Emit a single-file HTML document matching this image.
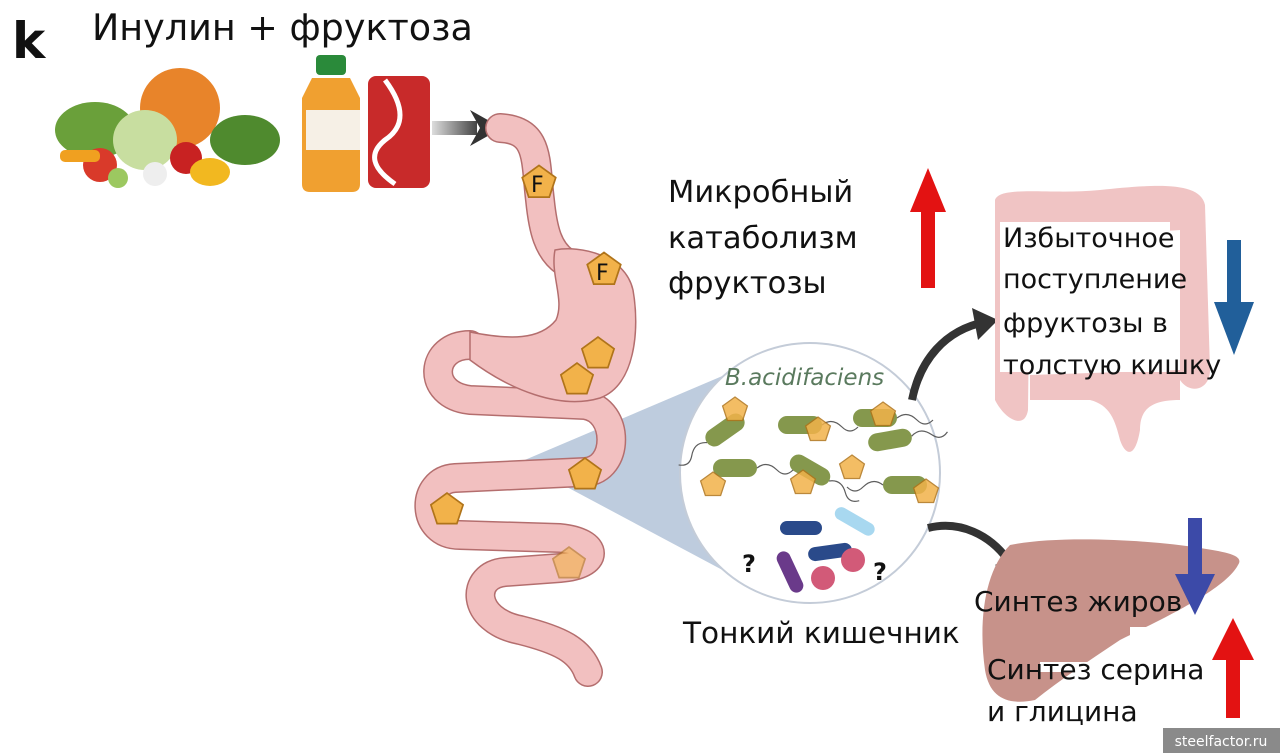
<!DOCTYPE html>
<html><head><meta charset="utf-8"><style>
html,body{margin:0;padding:0;background:#fff;width:1280px;height:753px;overflow:hidden}
svg{display:block}
text{font-family:"DejaVu Sans","Liberation Sans",sans-serif;fill:#111}
</style></head><body>
<svg width="1280" height="753" viewBox="0 0 1280 753" xmlns="http://www.w3.org/2000/svg">
<defs>
<linearGradient id="ga" x1="0" x2="1"><stop offset="0" stop-color="#ddd"/><stop offset="1" stop-color="#444"/></linearGradient>
<g id="pent"><path d="M0,-13 L12.4,-4 L7.6,10.5 L-7.6,10.5 L-12.4,-4 z" fill="#f2b24a" stroke="#b0741a" stroke-width="1.3"/></g>
<g id="bac"><rect x="-22" y="-9" width="44" height="18" rx="9" fill="#7f9344"/><path d="M-22,0 q-10,-8 -20,2 q-8,8 -16,0" fill="none" stroke="#555" stroke-width="1.2"/></g>
</defs>

<text x="12" y="58" font-size="50" font-weight="bold">k</text>
<text x="92" y="40" font-size="36.5">Инулин + фруктоза</text>

<ellipse cx="180" cy="108" rx="40" ry="40" fill="#e8842a"/>
<ellipse cx="95" cy="130" rx="40" ry="28" fill="#6aa03a"/>
<ellipse cx="145" cy="140" rx="32" ry="30" fill="#c8dea0"/>
<ellipse cx="245" cy="140" rx="35" ry="25" fill="#4f8a2e"/>
<circle cx="100" cy="165" r="17" fill="#d93a2a"/>
<circle cx="186" cy="158" r="16" fill="#c82222"/>
<ellipse cx="210" cy="172" rx="20" ry="14" fill="#f2b820"/>
<rect x="60" y="150" width="40" height="12" rx="5" fill="#f0a020"/>
<circle cx="118" cy="178" r="10" fill="#9cc860"/>
<circle cx="155" cy="174" r="12" fill="#eee"/>
<rect x="316" y="55" width="30" height="20" rx="4" fill="#2a8a3a"/>
<path d="M312,78 h38 l10,20 v86 q0,8 -8,8 h-42 q-8,0 -8,-8 v-86 z" fill="#f0a030"/>
<rect x="306" y="110" width="54" height="40" fill="#f6f0e6"/>
<rect x="368" y="76" width="62" height="112" rx="8" fill="#c82a2a"/>
<path d="M385,80 q30,40 0,60 q-25,20 10,44" fill="none" stroke="#fff" stroke-width="5"/>
<rect x="432" y="121" width="45" height="14" fill="url(#ga)"/>
<path d="M470,110 L502,128 L470,146 L480,128 z" fill="#333"/>

<path d="M520,462 L760,360 L760,590 z" fill="#b7c6da" opacity="0.9"/>

<g fill="none" stroke-linecap="round" stroke-linejoin="round">
<path d="M500,128 C540,130 535,160 540,200 C543,230 548,250 565,262 M470,345 C430,345 425,395 470,400 L585,405 C620,410 620,470 585,472 L455,478 C420,480 420,535 460,535 L560,538 C600,542 600,565 560,568 L505,572 C470,575 470,620 520,630 C560,640 580,650 588,672" stroke="#b46e6e" stroke-width="30"/>
<path d="M500,128 C540,130 535,160 540,200 C543,230 548,250 565,262 M470,345 C430,345 425,395 470,400 L585,405 C620,410 620,470 585,472 L455,478 C420,480 420,535 460,535 L560,538 C600,542 600,565 560,568 L505,572 C470,575 470,620 520,630 C560,640 580,650 588,672" stroke="#f2c0c0" stroke-width="27"/>
</g>
<path d="M555,250 C580,245 625,255 633,290 C640,330 635,385 600,398 C560,410 510,390 470,360 L470,332 C510,340 540,340 556,320 C565,300 550,275 555,250 z" fill="#f2c0c0" stroke="#b46e6e" stroke-width="1.5"/>
<use href="#pent" transform="translate(539,183) scale(1.35)"/>
<text x="531" y="192" font-size="22">F</text>
<use href="#pent" transform="translate(604,270) scale(1.35)"/>
<text x="596" y="280" font-size="22">F</text>
<use href="#pent" transform="translate(598,354) scale(1.3)"/>
<use href="#pent" transform="translate(577,380) scale(1.3)"/>
<use href="#pent" transform="translate(585,475) scale(1.3)"/>
<use href="#pent" transform="translate(447,510) scale(1.3)"/>
<g opacity="0.6"><use href="#pent" transform="translate(569,564) scale(1.3)"/></g>

<circle cx="810" cy="473" r="130" fill="#fff" stroke="#c4ccd8" stroke-width="2"/>
<text x="725" y="385" font-size="23" font-style="italic" style="fill:#5a7a5e">B.acidifaciens</text>
<g opacity="0.95">
<g transform="translate(725,430) rotate(-35)"><use href="#bac"/></g>
<g transform="translate(800,425)"><use href="#bac" transform="scale(-1,1)"/></g>
<g transform="translate(875,418)"><use href="#bac" transform="scale(-1,1)"/></g>
<g transform="translate(890,440) rotate(-10)"><use href="#bac" transform="scale(-1,1)"/></g>
<g transform="translate(810,470) rotate(30)"><use href="#bac" transform="scale(-1,1)"/></g>
<g transform="translate(735,468)"><use href="#bac" transform="scale(-1,1)"/></g>
<g transform="translate(905,485)"><use href="#bac"/></g>
</g>
<g opacity="0.85">
<use href="#pent" transform="translate(735,410)"/>
<use href="#pent" transform="translate(818,430)"/>
<use href="#pent" transform="translate(883,415)"/>
<use href="#pent" transform="translate(852,468)"/>
<use href="#pent" transform="translate(803,483)"/>
<use href="#pent" transform="translate(713,485)"/>
<use href="#pent" transform="translate(926,492)"/>
</g>
<rect x="780" y="521" width="42" height="14" rx="7" fill="#2a4a8a"/>
<rect x="833" y="515" width="44" height="13" rx="6.5" fill="#a8d8f0" transform="rotate(30 855 521)"/>
<rect x="808" y="545" width="44" height="14" rx="7" fill="#2a4a8a" transform="rotate(-8 830 552)"/>
<rect x="768" y="565" width="44" height="14" rx="7" fill="#6a3a8a" transform="rotate(65 790 572)"/>
<circle cx="853" cy="560" r="12" fill="#d25a78"/>
<circle cx="823" cy="578" r="12" fill="#d25a78"/>
<text x="742" y="572" font-size="24" font-weight="bold">?</text>
<text x="873" y="580" font-size="24" font-weight="bold">?</text>

<text x="668" y="202" font-size="30.5">Микробный</text>
<text x="668" y="248" font-size="30.5">катаболизм</text>
<text x="668" y="293" font-size="30.5">фруктозы</text>
<path d="M921,288 V212 H910 L928,168 L946,212 H935 V288 z" fill="#e31212"/>

<text x="683" y="643" font-size="29.5">Тонкий кишечник</text>

<path d="M912,400 C920,360 945,330 985,322" fill="none" stroke="#333" stroke-width="8"/>
<path d="M972,308 L998,320 L978,340 z" fill="#333"/>
<path d="M928,528 C960,520 990,535 1008,560" fill="none" stroke="#333" stroke-width="8"/>
<path d="M995,565 L1020,580 L1023,550 z" fill="#333"/>

<g fill="#f0c4c4">
<path d="M995,200 C1000,185 1050,195 1100,190 C1150,185 1200,180 1205,205 L1210,370 C1210,390 1190,395 1180,380 L1180,230 L1030,240 L1028,410 C1025,430 1005,420 995,400 z"/>
<path d="M1030,375 L1180,370 L1180,400 C1150,400 1140,410 1140,430 C1135,460 1125,455 1120,440 C1115,420 1110,405 1090,400 L1030,400 z"/>
</g>
<rect x="1000" y="222" width="170" height="150" fill="#fff"/>
<text x="1003" y="247" font-size="27">Избыточное</text>
<text x="1003" y="288" font-size="27">поступление</text>
<text x="1003" y="332" font-size="27">фруктозы в</text>
<text x="1003" y="374" font-size="27">толстую кишку</text>
<path d="M1227,240 V302 H1214 L1234,355 L1254,302 H1241 V240 z" fill="#215f9a"/>

<path d="M1010,545 C1060,535 1150,540 1200,548 C1225,552 1245,555 1238,565 C1225,590 1160,620 1120,640 C1090,660 1060,680 1035,700 C1010,705 990,700 985,670 C978,620 985,570 1010,545 z" fill="#c7928a"/>
<rect x="1130" y="627" width="80" height="10" fill="#fff"/>
<rect x="1040" y="662" width="90" height="10" fill="#fff"/>
<text x="974" y="611" font-size="28">Синтез жиров</text>
<text x="987" y="679" font-size="28">Синтез серина</text>
<text x="987" y="721" font-size="28">и глицина</text>
<path d="M1188,518 V574 H1175 L1195,615 L1215,574 H1202 V518 z" fill="#3c4aa8"/>
<path d="M1226,718 V660 H1212 L1233,618 L1254,660 H1240 V718 z" fill="#e31212"/>

<rect x="1163" y="728" width="117" height="25" fill="#8a8a8a"/>
<text x="1221" y="746" font-size="14" text-anchor="middle" style="fill:#fff">steelfactor.ru</text>
</svg>
</body></html>
